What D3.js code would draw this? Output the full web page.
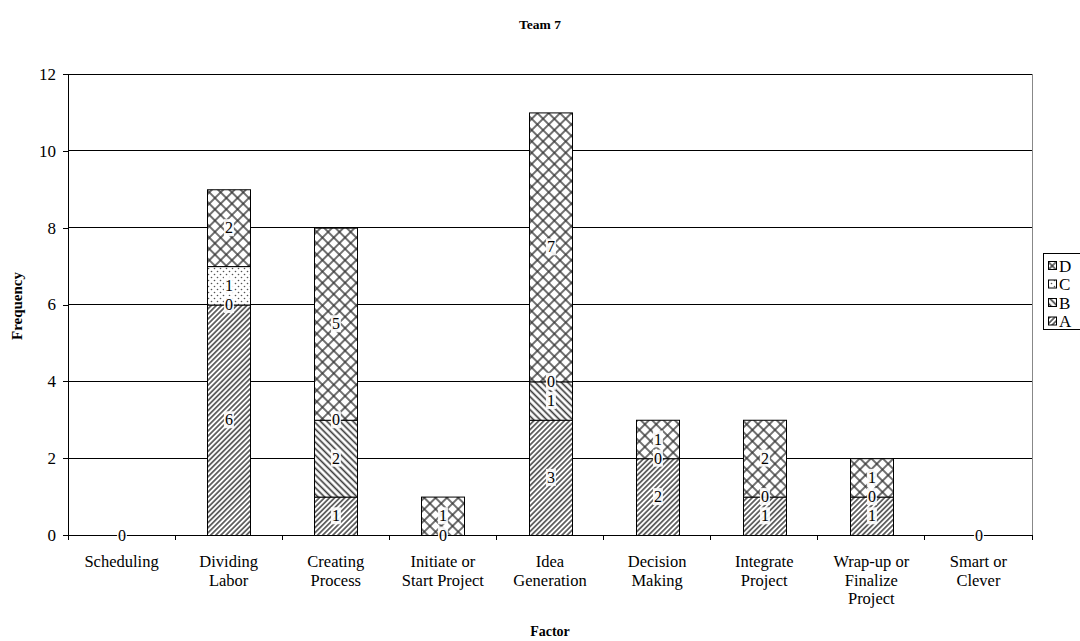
<!DOCTYPE html>
<html>
<head>
<meta charset="utf-8">
<script src="https://cdn.jsdelivr.net/npm/d3@7"></script>
<style>
  html, body { margin: 0; padding: 0; background: #fff; }
  svg { display: block; font-family: "Liberation Serif", "Times New Roman", serif; }
</style>
</head>
<body>
<svg id="chart" width="1080" height="641"></svg>
<script>
// Factor categories (line breaks as shown under the axis)
const categories = [
  ["Scheduling"],
  ["Dividing", "Labor"],
  ["Creating", "Process"],
  ["Initiate or", "Start Project"],
  ["Idea", "Generation"],
  ["Decision", "Making"],
  ["Integrate", "Project"],
  ["Wrap-up or", "Finalize", "Project"],
  ["Smart or", "Clever"]
];
// Stacked series, bottom to top; null = no entry for that factor
const seriesNames = ["A", "B", "C", "D"];
const valuesA = [0, 6, 1, 0, 3, 2, 1, 1, 0];
const valuesB = [null, 0, 2, null, 1, 0, 0, 0, null];
const valuesC = [null, 1, 0, null, 0, null, null, null, null];
const valuesD = [null, 2, 5, 1, 7, 1, 2, 1, null];
const yTicks = [0, 2, 4, 6, 8, 10, 12];

const series = [valuesA, valuesB, valuesC, valuesD];
const svg = d3.select("#chart");
const margin = { left: 68, right: 1032, top: 74, bottom: 535 };

const x = d3.scaleBand().domain(d3.range(categories.length))
  .range([margin.left, margin.right]).paddingInner(0.6).paddingOuter(0.3);
const xOuter = d3.scaleBand().domain(d3.range(categories.length))
  .range([margin.left, margin.right]);
const y = d3.scaleLinear().domain([0, 12]).range([margin.bottom, margin.top]);

// Fill patterns
const defs = svg.append("defs");
function linePattern(id, spacing, angle, width, color) {
  const p = defs.append("pattern").attr("id", id)
    .attr("patternUnits", "userSpaceOnUse")
    .attr("width", spacing).attr("height", spacing)
    .attr("patternTransform", `rotate(${angle})`);
  p.append("rect").attr("width", spacing).attr("height", spacing).attr("fill", "#fff");
  p.append("line").attr("x1", spacing / 2).attr("x2", spacing / 2)
    .attr("y1", 0).attr("y2", spacing)
    .attr("stroke", color).attr("stroke-width", width);
}
linePattern("patA", 3.6, 45, 1.4, "#333");
linePattern("patB", 4.6, -45, 1.6, "#333");
{
  const p = defs.append("pattern").attr("id", "patC")
    .attr("patternUnits", "userSpaceOnUse").attr("width", 6).attr("height", 6);
  p.append("rect").attr("width", 6).attr("height", 6).attr("fill", "#fff");
  p.append("circle").attr("cx", 1.5).attr("cy", 1.5).attr("r", 0.8).attr("fill", "#555");
  p.append("circle").attr("cx", 4.5).attr("cy", 4.5).attr("r", 0.8).attr("fill", "#555");
}
{
  const s = 8;
  const p = defs.append("pattern").attr("id", "patD")
    .attr("patternUnits", "userSpaceOnUse").attr("width", s).attr("height", s)
    .attr("patternTransform", "rotate(45)");
  p.append("rect").attr("width", s).attr("height", s).attr("fill", "#fff");
  p.append("line").attr("x1", s / 2).attr("x2", s / 2).attr("y1", 0).attr("y2", s)
    .attr("stroke", "#333").attr("stroke-width", 1.4);
  p.append("line").attr("y1", s / 2).attr("y2", s / 2).attr("x1", 0).attr("x2", s)
    .attr("stroke", "#333").attr("stroke-width", 1.4);
}
const fills = ["url(#patA)", "url(#patB)", "url(#patC)", "url(#patD)"];

// Title
svg.append("text").attr("x", 540).attr("y", 29).attr("text-anchor", "middle")
  .attr("font-size", 13.5).attr("font-weight", "bold").text("Team 7");

// Gridlines
svg.append("g").selectAll("line").data(yTicks.slice(1)).join("line")
  .attr("x1", margin.left).attr("x2", margin.right)
  .attr("y1", d => y(d)).attr("y2", d => y(d))
  .attr("stroke", "#000").attr("stroke-width", 1).attr("shape-rendering", "crispEdges");
// Right border
svg.append("line").attr("x1", margin.right).attr("x2", margin.right)
  .attr("y1", margin.top).attr("y2", margin.bottom)
  .attr("stroke", "#888").attr("shape-rendering", "crispEdges");

// Y axis
const yAxis = svg.append("g").attr("transform", `translate(${margin.left},0)`)
  .call(d3.axisLeft(y).tickValues(yTicks).tickSize(5).tickPadding(7));
yAxis.select(".domain").attr("stroke", "#000").attr("shape-rendering", "crispEdges");
yAxis.selectAll("line").attr("shape-rendering", "crispEdges");
yAxis.selectAll("text").attr("font-size", 17).attr("font-family", "Liberation Serif").attr("fill", "#000");

// X axis with ticks at category boundaries
const xAxisG = svg.append("g");
xAxisG.append("line").attr("x1", margin.left).attr("x2", margin.right)
  .attr("y1", margin.bottom).attr("y2", margin.bottom)
  .attr("stroke", "#000").attr("shape-rendering", "crispEdges");
xAxisG.selectAll("line.tick").data(d3.range(categories.length + 1)).join("line")
  .attr("class", "tick")
  .attr("x1", i => margin.left + i * xOuter.step()).attr("x2", i => margin.left + i * xOuter.step())
  .attr("y1", margin.bottom).attr("y2", margin.bottom + 5)
  .attr("stroke", "#000").attr("shape-rendering", "crispEdges");
categories.forEach((lines, i) => {
  const t = xAxisG.append("text").attr("text-anchor", "middle")
    .attr("font-size", 16.5).attr("fill", "#000")
    .attr("x", xOuter(i) + xOuter.bandwidth() / 2).attr("y", 567);
  lines.forEach((ln, k) => t.append("tspan")
    .attr("x", xOuter(i) + xOuter.bandwidth() / 2).attr("dy", k === 0 ? 0 : 18.5).text(ln));
});

// Axis titles
svg.append("text").attr("x", 550).attr("y", 636).attr("text-anchor", "middle")
  .attr("font-size", 14).attr("font-weight", "bold").text("Factor");
svg.append("text").attr("transform", "translate(22,306) rotate(-90)")
  .attr("text-anchor", "middle").attr("font-size", 15).attr("font-weight", "bold").text("Frequency");

// Stacked segments
const segs = [];
categories.forEach((c, i) => {
  let base = 0;
  series.forEach((vals, s) => {
    const v = vals[i];
    if (v === null) return;
    segs.push({ i, s, y0: base, y1: base + v, v });
    base += v;
  });
});
svg.append("g").selectAll("rect").data(segs.filter(d => d.v > 0)).join("rect")
  .attr("x", d => Math.round(x(d.i)) + 0.5).attr("width", Math.round(x.bandwidth()))
  .attr("y", d => y(d.y1) + 0.5).attr("height", d => y(d.y0) - y(d.y1))
  .attr("fill", d => fills[d.s]).attr("stroke", "#000").attr("stroke-width", 1);

// Value labels with white backing
const lab = svg.append("g").selectAll("g").data(segs).join("g")
  .attr("transform", d => `translate(${Math.round(x(d.i)) + x.bandwidth() / 2 + 0.5},${y((d.y0 + d.y1) / 2)})`);
lab.append("rect").attr("x", -5).attr("y", -8.5).attr("width", 10).attr("height", 17)
  .attr("fill", "#fff").attr("opacity", 0.9);
lab.append("text").attr("text-anchor", "middle").attr("dy", "0.35em")
  .attr("font-size", 16).attr("fill", "#000").text(d => d.v);

// Legend (top entry is last series)
const legend = svg.append("g");
legend.append("rect").attr("x", 1043.5).attr("y", 253.5).attr("width", 45).attr("height", 76)
  .attr("fill", "#fff").attr("stroke", "#000");
seriesNames.slice().reverse().forEach((name, k) => {
  const s = seriesNames.length - 1 - k;
  const cy = 266 + k * 18.5;
  legend.append("rect").attr("x", 1048.5).attr("y", cy - 4.5).attr("width", 8).attr("height", 8)
    .attr("fill", fills[s]).attr("stroke", "#000");
  legend.append("text").attr("x", 1059).attr("y", cy).attr("dy", "0.35em")
    .attr("font-size", 17).attr("fill", "#000").text(name);
});
</script>
</body>
</html>
